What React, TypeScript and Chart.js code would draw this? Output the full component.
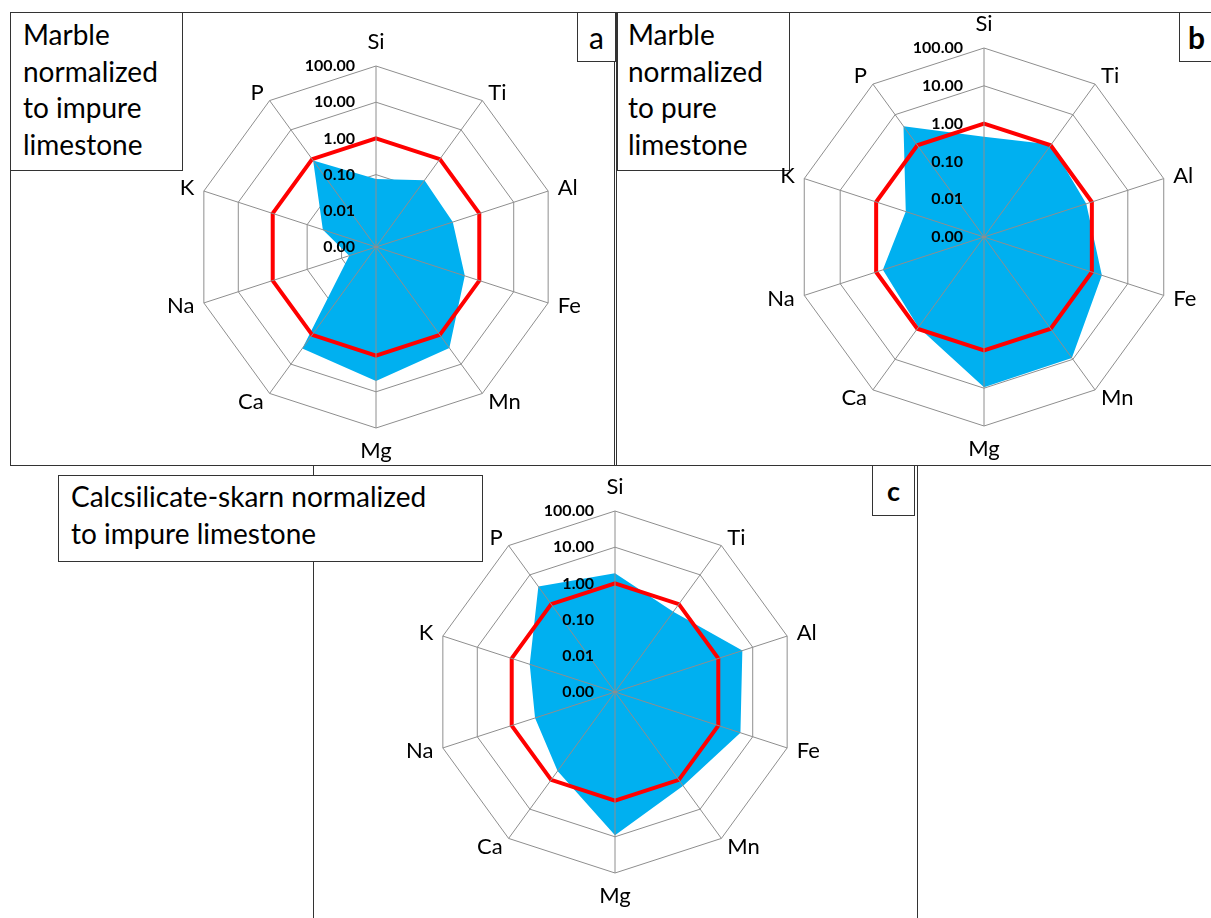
import React, { useEffect, useRef } from 'react';
import { Chart, registerables } from 'chart.js';

Chart.register(...registerables);

// ---- data ----
const ELEMENTS = ['Si', 'Ti', 'Al', 'Fe', 'Mn', 'Mg', 'Ca', 'Na', 'K', 'P'];
const TICK_LABELS = ['0.00', '0.01', '0.10', '1.00', '10.00', '100.00'];
const LOG_MIN = -3; // 0.001 at the centre
const LOG_MAX = 2; // 100 at the outer ring
const REFERENCE = [1, 1, 1, 1, 1, 1, 1, 1, 1, 1];
const MARBLE_IMPURE = [0.075, 0.19, 0.17, 0.38, 2.8, 5.0, 2.9, 0.006, 0.035, 0.9];
const MARBLE_PURE = [0.45, 1.05, 0.7, 1.9, 9.0, 9.5, 0.9, 0.65, 0.15, 4.2];
const SKARN_IMPURE = [1.9, 0.55, 5.0, 4.4, 1.6, 9.1, 0.5, 0.21, 0.3, 4.0];

const FONT = 'Lato, "Open Sans", sans-serif';
const GRID = '#8e8e8e';
const PAD = 70;

const toLog = (v: number) => Math.log10(v) - LOG_MIN;

const labelPlugin = {
  id: 'excelLabels',
  afterDraw(chart: any) {
    const s = chart.scales.r;
    const ctx = chart.ctx;
    ctx.save();
    ctx.fillStyle = '#000';
    ctx.font = `bold 16px ${FONT}`;
    ctx.textAlign = 'right';
    ctx.textBaseline = 'middle';
    s.ticks.forEach((t: any, i: number) => {
      const d = s.getDistanceFromCenterForValue(t.value);
      ctx.fillText(TICK_LABELS[i], s.xCenter - 21, s.yCenter - d);
    });
    ctx.font = `22px ${FONT}`;
    const labels: string[] = chart.data.labels;
    labels.forEach((lab, i) => {
      const p = s.getPointPosition(i, s.drawingArea + 10);
      const deg = (i * 360) / labels.length;
      let align = 'center';
      let y = p.y;
      if (deg === 0) y -= 14;
      else if (deg === 180) y += 13;
      else align = deg < 180 ? 'left' : 'right';
      ctx.textAlign = align;
      ctx.fillText(lab, p.x, y);
    });
    ctx.restore();
  },
};

function RadarPanel({ cx, cy, R, values, z = 1 }: { cx: number; cy: number; R: number; values: number[]; z?: number }) {
  const ref = useRef<HTMLCanvasElement>(null);
  const size = 2 * R + 2 * PAD;
  useEffect(() => {
    if (!ref.current) return;
    const chart = new Chart(ref.current, {
      type: 'radar',
      data: {
        labels: ELEMENTS,
        datasets: [
          {
            label: 'reference',
            data: REFERENCE.map(toLog),
            borderColor: '#ff0000',
            borderWidth: 4,
            fill: false,
            pointRadius: 0,
            order: 0,
          },
          {
            label: 'sample',
            data: values.map(toLog),
            backgroundColor: '#00b0f0',
            borderWidth: 0,
            borderColor: 'rgba(0,0,0,0)',
            fill: 'origin',
            pointRadius: 0,
            order: 1,
          },
        ],
      },
      options: {
        responsive: false,
        animation: false,
        layout: { padding: PAD },
        plugins: { legend: { display: false }, tooltip: { enabled: false } },
        scales: {
          r: {
            min: 0,
            max: LOG_MAX - LOG_MIN,
            ticks: { display: false, stepSize: 1 },
            grid: { color: GRID, lineWidth: 1 },
            angleLines: { display: false },
            pointLabels: { display: false },
          },
          r2: {
            type: 'radialLinear',
            axis: 'r',
            min: 0,
            max: LOG_MAX - LOG_MIN,
            ticks: { display: false, stepSize: 1 },
            grid: { display: false, z: 1 },
            angleLines: { display: true, color: GRID, lineWidth: 1 },
            pointLabels: { display: false },
          },
        } as any,
      },
      plugins: [labelPlugin],
    } as any);
    return () => chart.destroy();
  }, []);
  return (
    <canvas
      ref={ref}
      width={size}
      height={size}
      style={{ position: 'absolute', left: cx - R - PAD, top: cy - R - PAD, width: size, height: size, zIndex: z }}
    />
  );
}

const box = (l: number, t: number, w: number, h: number, extra: any = {}) => ({
  position: 'absolute' as const,
  left: l,
  top: t,
  width: w,
  height: h,
  border: '1px solid #333',
  boxSizing: 'border-box' as const,
  ...extra,
});

const titleStyle = {
  background: '#fff',
  fontFamily: FONT,
  fontSize: 28,
  lineHeight: '36.7px',
  color: '#000',
  paddingLeft: 12,
  paddingTop: 3,
  zIndex: 5,
  whiteSpace: 'nowrap' as const,
};

const letterStyle = {
  background: '#fff',
  fontFamily: FONT,
  fontSize: 30,
  color: '#000',
  display: 'flex',
  alignItems: 'center',
  justifyContent: 'center',
  zIndex: 5,
};

export default function App() {
  return (
    <div
      style={{
        position: 'absolute',
        left: 0,
        top: 0,
        width: 1211,
        height: 918,
        overflow: 'hidden',
        background: '#fff',
      }}
    >
      {/* panel frames */}
      <div style={box(10, 12, 605, 454)} />
      <div style={box(616, 12, 610, 454)} />
      <div style={box(313, 465, 605, 470)} />

      <RadarPanel cx={376} cy={247} R={181} values={MARBLE_IMPURE} />
      <RadarPanel cx={984} cy={237} R={189} values={MARBLE_PURE} z={6} />
      <RadarPanel cx={615} cy={692} R={181} values={SKARN_IMPURE} />

      <div style={box(10, 12, 173, 159, titleStyle)}>
        Marble
        <br />
        normalized
        <br />
        to impure
        <br />
        limestone
      </div>
      <div style={box(617, 12, 173, 159, { ...titleStyle, paddingLeft: 10 })}>
        Marble
        <br />
        normalized
        <br />
        to pure
        <br />
        limestone
      </div>
      <div style={box(58, 475, 425, 87, { ...titleStyle, lineHeight: '37.3px', paddingTop: 2 })}>
        Calcsilicate-skarn normalized
        <br />
        to impure limestone
      </div>

      <div style={box(577, 12, 39, 50, letterStyle)}>a</div>
      <div style={box(1179, 12, 40, 50, { ...letterStyle, fontWeight: 'bold', justifyContent: 'flex-start', paddingLeft: 8 })}>b</div>
      <div style={box(872, 465, 43, 51, { ...letterStyle, fontWeight: 'bold', fontSize: 27 })}>c</div>
    </div>
  );
}
